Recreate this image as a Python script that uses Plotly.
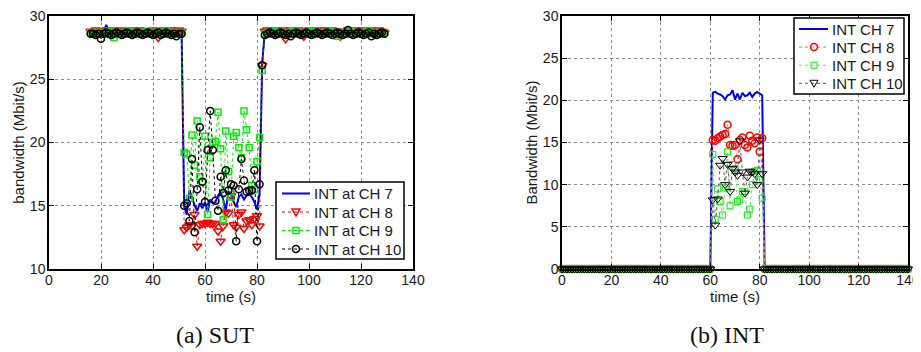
import plotly.graph_objects as go

# ---------------- (a) SUT ----------------
t_sut = list(range(16, 130))

sut_ch7_pre = [28.7, 28.6, 28.7, 28.8, 28.6, 28.7, 29.3, 28.9, 29.0, 28.8,
               28.9, 28.8, 28.7, 28.9, 28.8, 29.0, 28.8, 28.7, 28.8, 28.9,
               28.7, 28.8, 28.7, 28.9, 28.8, 28.6, 28.8, 28.9, 28.7, 28.8,
               28.7, 28.9, 28.8, 28.7, 28.8, 28.7]
sut_ch7_dip = [15.0, 14.3, 16.2, 15.7, 15.0, 14.6, 15.2, 14.8, 15.3, 14.5,
               15.5, 15.2, 15.3, 15.8, 16.1, 15.5, 14.6, 16.1, 16.0, 15.3,
               14.9, 15.7, 15.9, 15.5, 15.8, 15.9, 15.7, 15.3, 14.7, 16.0, 26.3]
sut_ch7_post = [28.8, 28.9, 28.8, 28.7, 28.9, 28.8, 28.7, 28.8, 28.9, 28.7,
                28.8, 28.7, 28.9, 28.8, 28.7, 28.8, 28.9, 28.8, 28.7, 28.8,
                28.9, 28.8, 28.7, 29.0, 28.8, 28.7, 28.8, 28.9, 28.7, 28.8,
                28.7, 28.8, 28.9, 28.7, 28.8, 28.7, 28.8, 28.9, 28.8, 28.7,
                28.8, 28.7, 28.8, 28.9, 28.7, 28.8, 28.7]

sut_ch8_pre = [28.8, 28.7, 28.9, 28.8, 28.7, 28.8, 28.9, 28.7, 28.8, 28.9,
               28.7, 28.8, 28.9, 28.8, 28.7, 28.8, 28.9, 28.7, 28.8, 28.9,
               28.7, 28.8, 28.7, 28.8, 28.9, 28.7, 28.3, 28.8, 28.9, 28.7,
               28.8, 28.9, 28.7, 28.8, 28.9, 28.8]
sut_ch8_dip = [13.1, 13.3, 13.5, 13.4, 14.3, 11.8, 13.5, 13.6, 13.6, 13.7,
               13.6, 13.6, 13.6, 13.0, 12.2, 13.4, 14.5, 14.4, 15.8, 13.5,
               13.3, 14.3, 14.5, 13.2, 13.8, 13.9, 13.5, 14.0, 14.2, 13.4, 26.1]
sut_ch8_post = [28.8, 28.9, 28.7, 28.8, 28.9, 28.7, 28.8, 28.9, 28.2, 28.8,
                28.9, 28.7, 28.8, 28.9, 28.7, 28.4, 28.8, 28.9, 28.7, 28.8,
                28.9, 28.7, 28.8, 28.9, 28.7, 28.8, 28.9, 28.7, 28.8, 28.4,
                28.8, 28.7, 28.9, 28.8, 28.7, 28.9, 28.8, 28.7, 28.9, 28.8,
                28.7, 28.9, 28.8, 28.7, 28.9, 28.8, 28.7]

sut_ch9_pre = [28.7, 28.6, 28.7, 28.6, 28.7, 28.6, 28.7, 28.8, 28.6, 28.3,
               28.7, 28.6, 28.7, 28.6, 28.7, 28.8, 28.6, 28.7, 28.6, 28.7,
               28.6, 28.7, 28.8, 28.6, 28.7, 28.6, 28.7, 28.6, 28.7, 28.8,
               28.6, 28.7, 28.6, 28.7, 28.6, 28.7]
sut_ch9_dip = [19.2, 19.1, 15.6, 20.6, 18.2, 21.7, 17.3, 16.9, 20.5, 14.3,
               18.8, 20.0, 20.1, 22.4, 19.5, 13.9, 20.9, 17.7, 15.7, 20.5,
               20.8, 19.6, 18.8, 22.5, 21.0, 19.6, 16.6, 16.3, 18.5, 20.4, 25.7]
sut_ch9_post = [28.6, 28.7, 28.6, 28.7, 28.8, 28.6, 28.7, 28.6, 28.7, 28.6,
                28.7, 28.8, 28.6, 28.7, 28.6, 28.7, 28.6, 28.7, 28.8, 28.6,
                28.7, 28.6, 28.7, 28.6, 28.7, 28.8, 28.6, 28.7, 28.4, 28.6,
                28.7, 28.6, 28.7, 28.8, 28.6, 28.7, 28.6, 28.7, 28.6, 28.7,
                28.8, 28.6, 28.7, 28.6, 28.7, 28.6, 28.7]

sut_ch10_pre = [28.6, 28.6, 28.5, 28.6, 28.2, 28.6, 28.7, 28.6, 28.5, 28.6,
                28.7, 28.6, 28.5, 28.6, 28.7, 28.6, 28.5, 28.6, 28.7, 28.6,
                28.5, 28.6, 28.7, 28.6, 28.5, 28.6, 28.7, 28.5, 28.6, 28.7,
                28.6, 28.5, 28.6, 28.4, 28.6, 28.6]
sut_ch10_dip = [15.0, 15.2, 13.8, 18.7, 12.9, 16.3, 21.2, 16.9, 15.3, 19.4,
                22.5, 19.4, 15.4, 14.6, 17.3, 16.0, 17.8, 16.2, 16.7, 16.6,
                12.2, 16.3, 18.7, 17.0, 16.1, 16.2, 16.2, 17.8, 12.2, 16.7, 26.1]
sut_ch10_post = [28.5, 28.6, 28.7, 28.6, 28.5, 28.6, 28.7, 28.6, 28.5, 28.6,
                 28.4, 28.6, 28.7, 28.6, 28.5, 28.6, 28.7, 28.6, 28.5, 28.6,
                 28.7, 28.6, 28.5, 28.6, 28.7, 28.6, 28.5, 28.6, 28.7, 28.6,
                 28.5, 28.6, 28.9, 28.6, 28.5, 28.6, 28.7, 28.6, 28.5, 28.6,
                 28.7, 28.4, 28.6, 28.5, 28.6, 28.7, 28.6]

sut_ch7 = sut_ch7_pre + sut_ch7_dip + sut_ch7_post
sut_ch8 = sut_ch8_pre + sut_ch8_dip + sut_ch8_post
sut_ch9 = sut_ch9_pre + sut_ch9_dip + sut_ch9_post
sut_ch10 = sut_ch10_pre + sut_ch10_dip + sut_ch10_post

# ---------------- (b) INT ----------------
t_int = list(range(0, 141))
int_idle_before = [0, 0, 0, 0, 0, 0, 0, 0, 0, 0, 0, 0, 0, 0, 0, 0, 0, 0, 0, 0,
                   0, 0, 0, 0, 0, 0, 0, 0, 0, 0, 0, 0, 0, 0, 0, 0, 0, 0, 0, 0,
                   0, 0, 0, 0, 0, 0, 0, 0, 0, 0, 0, 0, 0, 0, 0, 0, 0, 0, 0, 0, 0]
int_idle_after = [0, 0, 0, 0, 0, 0, 0, 0, 0, 0, 0, 0, 0, 0, 0, 0, 0, 0, 0, 0,
                  0, 0, 0, 0, 0, 0, 0, 0, 0, 0, 0, 0, 0, 0, 0, 0, 0, 0, 0, 0,
                  0, 0, 0, 0, 0, 0, 0, 0, 0, 0, 0, 0, 0, 0, 0, 0, 0, 0, 0]
int_ch7_act = [20.9, 21.0, 20.8, 20.7, 20.5, 20.1, 20.6, 20.7, 21.2, 20.1,
               20.8, 20.1, 20.9, 20.5, 20.6, 20.9, 20.4, 20.8, 21.0, 20.8, 20.6]
int_ch8_act = [15.3, 15.2, 15.5, 15.7, 15.9, 16.0, 17.1, 14.7, 14.6, 14.7,
               13.0, 15.3, 15.6, 14.7, 14.4, 15.8, 15.2, 14.9, 15.6, 13.9, 15.5]
int_ch9_act = [13.6, 5.9, 9.5, 8.0, 6.4, 9.6, 13.9, 7.5, 12.4, 11.9,
               8.0, 8.2, 9.2, 9.2, 6.4, 7.1, 10.0, 11.6, 11.7, 10.6, 8.4]
int_ch10_act = [8.2, 5.2, 8.3, 12.3, 13.1, 10.0, 12.4, 9.2, 11.9, 11.5,
                11.1, 15.2, 11.5, 9.0, 10.9, 11.6, 11.5, 11.3, 10.0, 15.3, 11.3]

int_ch7 = int_idle_before + int_ch7_act + int_idle_after
int_ch8 = int_idle_before + int_ch8_act + int_idle_after
int_ch9 = int_idle_before + int_ch9_act + int_idle_after
int_ch10 = int_idle_before + int_ch10_act + int_idle_after

sut_names = ["INT at CH 7", "INT at CH 8", "INT at CH 9", "INT at CH 10"]
int_names = ["INT CH 7", "INT CH 8", "INT CH 9", "INT CH 10"]

x_ticks = [0, 20, 40, 60, 80, 100, 120, 140]
sut_y_ticks = [10, 15, 20, 25, 30]
int_y_ticks = [0, 5, 10, 15, 20, 25, 30]

# page is 921x352; the html body adds an 8 px margin, so the figure is 913x344
OFF = 8
W, H = 921 - OFF, 352 - OFF
BLUE = "#0000ff"
RED = "#ff0000"
GREEN = "#00ee00"
BLACK = "#000000"
TXT = "#1a1a1a"
FONT = "Liberation Sans, Arial, sans-serif"
SERIF = "Liberation Serif, Times New Roman, serif"

# styles: (line color, line width, dash, marker symbol, marker size, marker line width)
sut_styles = [
    (BLUE, 2, "solid", None, 0, 0),
    (RED, 1, "dot", "triangle-down-open", 8, 1.5),
    (GREEN, 1, "dot", "square-open", 6, 1.5),
    (BLACK, 1, "dot", "circle-open", 7, 1.5),
]
int_styles = [
    (BLUE, 2, "solid", None, 0, 0),
    ("#ff6060", 1, "dot", "circle-open", 7, 1.5),
    ("#70e070", 1, "dot", "square-open", 6, 1.0),
    ("#606060", 1, "dot", "triangle-down-open", 8, 1.0),
]
sut_marker_colors = [BLUE, RED, GREEN, BLACK]
int_marker_colors = [BLUE, RED, GREEN, BLACK]


def px(x):
    return (x - OFF) / W


def py(y):
    return 1 - (y - OFF) / H


fig = go.Figure()


def add_series(x, ys, names, styles, mcolors, xa, ya, clip):
    for y, name, st, mc in zip(ys, names, styles, mcolors):
        lc, lw, dash, sym, ms, mlw = st
        kw = dict(x=x, y=y, name=name, showlegend=False, xaxis=xa, yaxis=ya,
                  cliponaxis=clip, line=dict(color=lc, width=lw, dash=dash))
        if sym is None:
            kw["mode"] = "lines"
        else:
            kw["mode"] = "lines+markers"
            kw["marker"] = dict(symbol=sym, size=ms, color=mc, line=dict(width=mlw, color=mc))
        fig.add_trace(go.Scatter(**kw))


add_series(t_sut, [sut_ch7, sut_ch8, sut_ch9, sut_ch10], sut_names, sut_styles,
           sut_marker_colors, "x", "y", True)
add_series(t_int, [int_ch7, int_ch8, int_ch9, int_ch10], int_names, int_styles,
           int_marker_colors, "x2", "y2", False)

axis_common = dict(showline=True, linecolor="black", linewidth=1.5, mirror="allticks",
                   ticks="inside", ticklen=5, tickcolor="black", automargin=False,
                   ticklabeloverflow="allow",
                   showgrid=True, gridcolor="#909090", griddash="dot", gridwidth=1,
                   zeroline=False, tickfont=dict(family=FONT, size=14, color=TXT),
                   title_font=dict(family=FONT, size=15, color=TXT))
x_axis_common = dict(axis_common, ticklabelstandoff=-3)
y_axis_common = dict(axis_common, ticklabelstandoff=-1)

# ---- legend boxes drawn as layout decorations (page pixels -> paper) ----
shapes = []
annotations = []


def legend_box(box, rows_y, line_x, marker_x, text_x, names, styles, mcolors):
    x0, y0, x1, y1 = box
    shapes.append(dict(type="rect", xref="paper", yref="paper", layer="above",
                       x0=px(x0), x1=px(x1), y0=py(y1), y1=py(y0),
                       line=dict(color="black", width=1.5), fillcolor="white"))
    for ry, name, st, mc in zip(rows_y, names, styles, mcolors):
        lc, lw, dash, sym, ms, mlw = st
        shapes.append(dict(type="line", xref="paper", yref="paper", layer="above",
                           x0=px(line_x[0]), x1=px(line_x[1]), y0=py(ry), y1=py(ry),
                           line=dict(color=lc, width=lw, dash=dash)))
        if sym is not None:
            r = ms / 2.0
            mk = dict(xref="paper", yref="paper", layer="above",
                      line=dict(color=mc, width=mlw), fillcolor="rgba(0,0,0,0)")
            if sym.startswith("circle"):
                mk.update(type="circle", x0=px(marker_x - r), x1=px(marker_x + r),
                          y0=py(ry + r), y1=py(ry - r))
            elif sym.startswith("square"):
                mk.update(type="rect", x0=px(marker_x - r), x1=px(marker_x + r),
                          y0=py(ry + r), y1=py(ry - r))
            else:
                path = "M {:.5f},{:.5f} L {:.5f},{:.5f} L {:.5f},{:.5f} Z".format(
                    px(marker_x - r), py(ry - r * 0.75), px(marker_x + r), py(ry - r * 0.75),
                    px(marker_x), py(ry + r))
                mk.update(type="path", path=path)
            shapes.append(mk)
        annotations.append(dict(text=name, x=px(text_x), y=py(ry), xref="paper", yref="paper",
                                xanchor="left", yanchor="middle", showarrow=False,
                                font=dict(family=FONT, size=15, color=TXT)))


legend_box((276, 182, 404, 259), [193.5, 212.0, 230.5, 249.0], (282, 310), 296, 312,
           sut_names, sut_styles, sut_marker_colors)
legend_box((794, 18, 904, 94), [29.0, 47.1, 65.2, 83.3], (799, 828), 814, 830,
           int_names, int_styles, int_marker_colors)

annotations.append(dict(text="(a) SUT", x=px(214.5), y=py(335), xref="paper", yref="paper",
                        showarrow=False, xanchor="center", yanchor="middle",
                        font=dict(family=SERIF, size=24, color="#111")))
annotations.append(dict(text="(b) INT", x=px(727), y=py(335), xref="paper", yref="paper",
                        showarrow=False, xanchor="center", yanchor="middle",
                        font=dict(family=SERIF, size=24, color="#111")))

PLOT_TOP, PLOT_BOTTOM = 16, 269

fig.update_layout(
    width=W, height=H,
    margin=dict(l=0, r=0, t=0, b=0, autoexpand=False),
    paper_bgcolor="white", plot_bgcolor="white",
    font=dict(family=FONT, size=15, color=TXT),
    showlegend=False,
    xaxis=dict(domain=[px(49), px(413)], range=[0, 140], tickvals=x_ticks,
               anchor="y", title=dict(text="time (s)", standoff=0), **x_axis_common),
    yaxis=dict(domain=[py(PLOT_BOTTOM), py(PLOT_TOP)], range=[10, 30], tickvals=sut_y_ticks,
               anchor="x", title=dict(text="bandwidth (Mbit/s)", standoff=2), **y_axis_common),
    xaxis2=dict(domain=[px(562), px(908)], range=[0, 140], tickvals=x_ticks,
                anchor="y2", title=dict(text="time (s)", standoff=0), **x_axis_common),
    yaxis2=dict(domain=[py(PLOT_BOTTOM), py(PLOT_TOP)], range=[0, 30], tickvals=int_y_ticks,
                anchor="x2", title=dict(text="Bandwidth (Mbit/s)", standoff=2), **y_axis_common),
    shapes=shapes,
    annotations=annotations,
)

fig.write_html("out.html")
